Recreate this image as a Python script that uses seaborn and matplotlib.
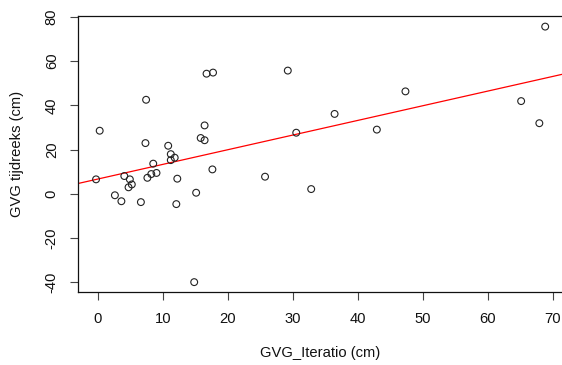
import matplotlib
matplotlib.use("Agg")
import matplotlib.pyplot as plt
import seaborn as sns
import numpy as np
import pandas as pd

# Data
gvg_iteratio = [-0.3, 0.26, 2.6, 3.6, 4.05, 4.9, 5.2, 4.7, 6.6, 7.3, 7.4, 7.6, 8.2,
                8.5, 9.0, 10.8, 11.2, 11.8, 11.2, 12.05, 12.2, 14.8, 15.1, 15.8,
                16.4, 16.4, 16.7, 17.7, 17.6, 25.7, 29.2, 30.5, 32.8, 36.4, 42.9,
                47.3, 65.1, 67.9, 68.8]
gvg_tijdreeks = [6.5, 28.5, -0.7, -3.4, 8.0, 6.5, 4.2, 2.9, -3.8, 22.9, 42.5, 7.2, 8.9,
                 13.6, 9.4, 21.7, 17.9, 16.3, 15.2, -4.7, 6.8, -40.0, 0.45, 25.2,
                 24.2, 30.9, 54.3, 54.8, 11.0, 7.7, 55.7, 27.6, 2.1, 36.1, 29.0,
                 46.3, 41.9, 31.9, 75.6]
x_ticks = [0, 10, 20, 30, 40, 50, 60, 70]
y_ticks = [-40, -20, 0, 20, 40, 60, 80]
x_label = "GVG_Iteratio (cm)"
y_label = "GVG tijdreeks (cm)"

df = pd.DataFrame({"x": gvg_iteratio, "y": gvg_tijdreeks})

sns.set_style("ticks")
plt.rcParams["font.family"] = ["Liberation Sans", "DejaVu Sans"]

W, H = 562, 365
fig = plt.figure(figsize=(W / 100, H / 100), dpi=100)
left, right, top, bottom = 78.3, 563.0, 16.0, 292.3
ax = fig.add_axes([left / W, (H - bottom) / H, (right - left) / W, (bottom - top) / H])

xlim = (-3.03, 71.54)
ylim = (-44.6, 80.4)
ax.set_xlim(*xlim)
ax.set_ylim(*ylim)

sns.regplot(data=df, x="x", y="y", scatter=False, ci=None, truncate=False,
            color="red", line_kws={"linewidth": 0.9}, ax=ax)
sns.scatterplot(data=df, x="x", y="y", facecolor="none", edgecolor="#222222",
                s=24, linewidth=0.8, marker="o", ax=ax, zorder=3)

ax.set_xlim(*xlim)
ax.set_ylim(*ylim)
ax.set_xticks(x_ticks)
ax.set_yticks(y_ticks)
ax.set_xticklabels([str(t) for t in x_ticks])
ax.set_yticklabels([str(t) for t in y_ticks], rotation=90, va="center")

fs = 10.6
ax.tick_params(axis="both", direction="out", length=6, width=0.8, color="#444444",
               labelsize=fs, labelcolor="#111111", pad=8)

for s in ["left", "bottom", "top"]:
    ax.spines[s].set_visible(True)
    ax.spines[s].set_linewidth(0.9)
    ax.spines[s].set_color("#111111")
ax.spines["right"].set_visible(False)

ax.set_xlabel(x_label, fontsize=fs, color="#111111")
ax.set_ylabel(y_label, fontsize=fs, color="#111111")
ax.xaxis.set_label_coords((320 - left) / (right - left), (bottom - 353) / (bottom - top))
ax.xaxis.label.set_va("center")
ax.yaxis.set_label_coords((17 - left) / (right - left), (bottom - 154) / (bottom - top))
ax.yaxis.label.set_va("center")

fig.savefig("out.png", dpi=100)
